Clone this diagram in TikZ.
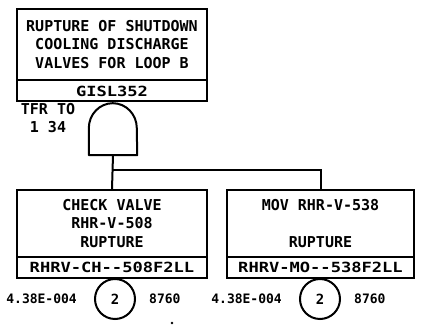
\documentclass[tikz,border=0pt]{standalone}
\usepackage{fontspec}
\newfontfamily\plotfont{DejaVu Sans Mono}
\newfontfamily\plotwide[FakeStretch=1.22]{DejaVu Sans Mono}
\usetikzlibrary{positioning}

\begin{document}
\begin{tikzpicture}[x=1pt, y=-1pt,
    wire/.style={line width=2pt},
    descbox/.style={draw, line width=2pt, align=center, inner sep=0pt,
        font=\plotfont\bfseries\fontsize{15}{18.5}\selectfont},
    idbox/.style={draw, line width=2pt, inner sep=0pt, minimum height=21pt,
        font=\plotwide\bfseries\fontsize{14}{16}\selectfont},
    evcircle/.style={draw, circle, line width=2pt, minimum size=40pt, inner sep=0pt,
        font=\plotfont\bfseries\fontsize{14}{16}\selectfont},
    numtext/.style={inner sep=0pt, font=\plotfont\bfseries\fontsize{13}{15}\selectfont},
    gatebox/.style={minimum width=48pt, minimum height=52pt, inner sep=0pt}
]
    \useasboundingbox (0,0) rectangle (421,336);

    % ---- Evento superior ----
    \node[descbox, minimum width=190pt, minimum height=71pt] (topdesc) at (112,44.5)
        {RUPTURE OF SHUTDOWN\\COOLING DISCHARGE\\VALVES FOR LOOP B};
    \node[idbox, minimum width=190pt] (topid) at (112,91) {GISL352};

    \node[numtext, align=center, font=\plotfont\bfseries\fontsize{15}{17.5}\selectfont]
        (tfr) at (48,118) {TFR TO\\1 34};

    % ---- Compuerta AND ----
    \node[gatebox] (gate) at (113,129) {};
    \draw[wire, line join=round] (gate.south west) -- ++(0,-27)
        arc[start angle=180, end angle=0, x radius=24pt, y radius=25pt]
        -- (gate.south east) -- cycle;
    \draw[wire] (topid.south) -- (gate.north);

    % ---- Eventos basicos ----
    \node[descbox, minimum width=190pt, minimum height=67pt] (chkdesc) at (112,223.5)
        {CHECK VALVE\\RHR-V-508\\RUPTURE};
    \node[idbox, minimum width=190pt] (chkid) at (112,267.5) {RHRV-CH--508F2LL};
    \node[descbox, minimum width=187pt, minimum height=67pt] (movdesc) at (320.5,223.5)
        {MOV RHR-V-538\\[18.5pt]RUPTURE};
    \node[idbox, minimum width=187pt] (movid) at (320.5,267.5) {RHRV-MO--538F2LL};

    % circulos con probabilidad y tiempo
    \node[evcircle] (chkev) at (115,299) {2};
    \node[numtext, left=17pt of chkev] (chkprob) {4.38E-004};
    \node[numtext, right=13pt of chkev] (chktime) {8760};
    \node[evcircle] (movev) at (320,299) {2};
    \node[numtext, left=17pt of movev] (movprob) {4.38E-004};
    \node[numtext, right=13pt of movev] (movtime) {8760};

    % ---- Conexiones ----
    \coordinate (split) at (113,170);
    \draw[wire] (gate.south) -- (chkdesc.north);
    \draw[wire] (split) -| (movdesc.north);

    \fill (172,323) circle (1.3pt);
\end{tikzpicture}
\end{document}
